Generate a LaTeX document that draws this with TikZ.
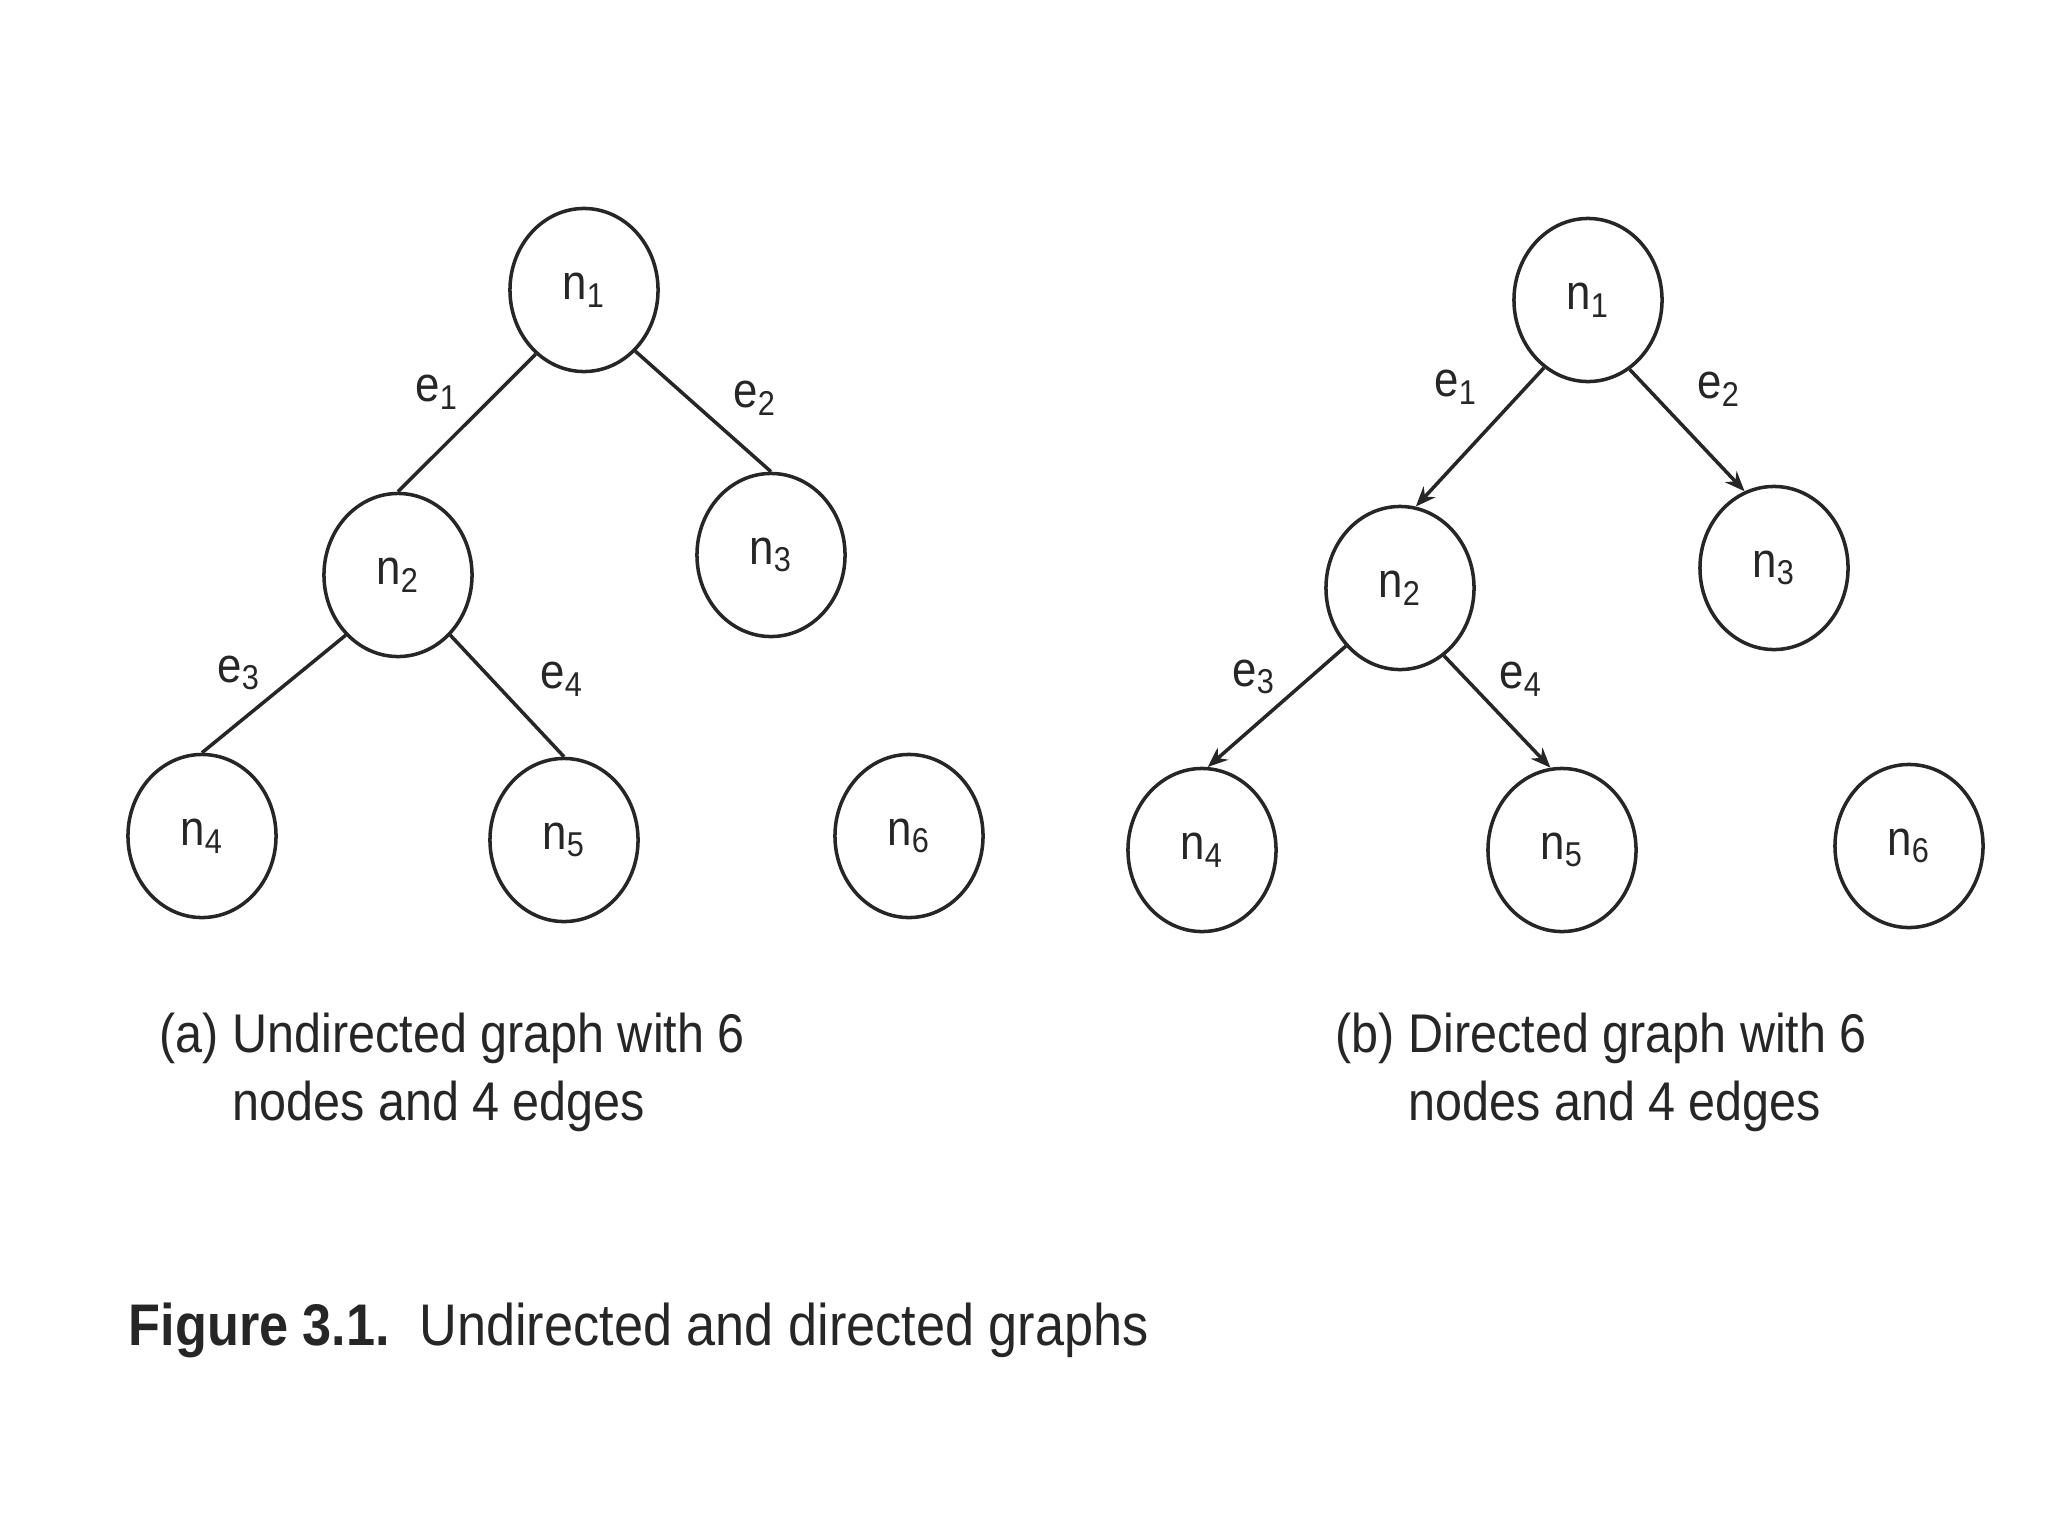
\documentclass[tikz,border=0pt]{standalone}
\usepackage{fontspec}
\setmainfont{Liberation Sans}
\newfontfamily\narrowfont[FakeStretch=0.89]{Liberation Sans}
\usetikzlibrary{positioning,shapes.geometric,arrows.meta}

\begin{document}
\begin{tikzpicture}[x=0.01cm, y=-0.01cm, >={Stealth[length=2mm,width=1.6mm]},
  vertex/.style={ellipse,draw,line width=1pt,minimum width=1.48cm,minimum height=1.63cm,inner sep=0pt,font=\narrowfont\fontsize{14}{16}\selectfont},
  elabel/.style={font=\narrowfont\fontsize{14}{16}\selectfont},
  edge/.style={line width=1pt},
  caption/.style={align=left,inner sep=0pt,font=\narrowfont\fontsize{15.5}{19.3}\selectfont},
  black!85]

\useasboundingbox (0,0) rectangle (2048,1536);

% (a) undirected graph
\node[vertex] at (584,290) (a1) {n\textsubscript{1}};
\node[vertex] at (398,575) (a2) {n\textsubscript{2}};
\node[vertex] at (771,555) (a3) {n\textsubscript{3}};
\node[vertex] at (202,836) (a4) {n\textsubscript{4}};
\node[vertex] at (564,840) (a5) {n\textsubscript{5}};
\node[vertex] at (909,836) (a6) {n\textsubscript{6}};

\node[elabel] at (437,392) (ae1) {e\textsubscript{1}};
\node[elabel] at (755,398) (ae2) {e\textsubscript{2}};
\node[elabel] at (239,673) (ae3) {e\textsubscript{3}};
\node[elabel] at (562,679) (ae4) {e\textsubscript{4}};

\foreach \from/\to in {a1.233/a2.north, a1.310/a3.north, a2.229/a4.north, a2.311/a5.north}
  \draw[edge] (\from) -- (\to);

% (b) directed graph
\node[vertex] at (1588,300) (b1) {n\textsubscript{1}};
\node[vertex] at (1400,588) (b2) {n\textsubscript{2}};
\node[vertex] at (1774,568) (b3) {n\textsubscript{3}};
\node[vertex] at (1202,850) (b4) {n\textsubscript{4}};
\node[vertex] at (1562,850) (b5) {n\textsubscript{5}};
\node[vertex] at (1909,846) (b6) {n\textsubscript{6}};

\node[elabel] at (1456,387) (be1) {e\textsubscript{1}};
\node[elabel] at (1719,389) (be2) {e\textsubscript{2}};
\node[elabel] at (1254,677) (be3) {e\textsubscript{3}};
\node[elabel] at (1521,679) (be4) {e\textsubscript{4}};

\foreach \from/\to in {b1.237/b2.79, b1.301/b3.111, b2.227/b4.86, b2.303/b5.98}
  \draw[edge,->] (\from) -- (\to);

% Captions
\node[caption,anchor=west] at (159,1072) (capa) {(a) Undirected graph with 6\\\phantom{(a) }nodes and 4 edges};
\node[caption,anchor=west] at (1335,1072) (capb) {(b) Directed graph with 6\\\phantom{(b) }nodes and 4 edges};

\node[caption,anchor=west,font=\narrowfont\fontsize{16.7}{20}\selectfont] at (128,1330) (fig) {\textbf{Figure 3.1.}\enspace Undirected and directed graphs};

\end{tikzpicture}
\end{document}
